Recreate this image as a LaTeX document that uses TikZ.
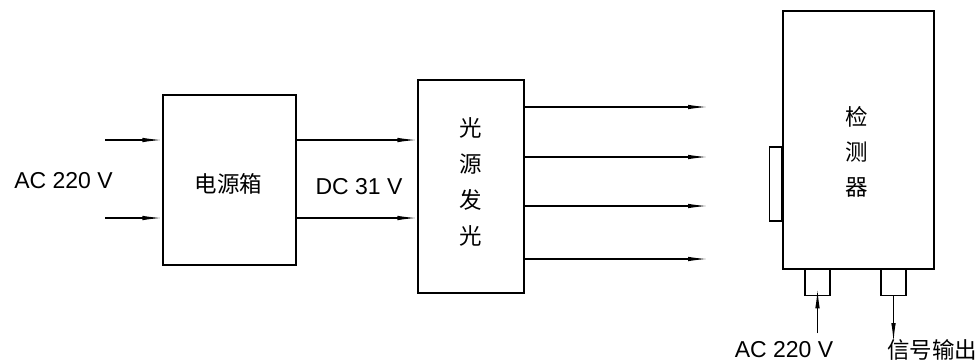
\documentclass[tikz,border=0pt]{standalone}
\usepackage{fontspec}
\setmainfont{Liberation Sans}
\newfontfamily\cjk{Noto Sans CJK SC}
\usetikzlibrary{arrows.meta}
\begin{document}
\begin{tikzpicture}[x=1pt,y=-1pt,
  box/.style={draw,line width=1.3pt,minimum width=#1,inner sep=0pt},
  wire/.style={line width=1.3pt},
  arr/.style={line width=1.3pt,-{Latex[length=20pt,width=4.5pt]}},
  lbl/.style={font=\fontsize{23}{26}\selectfont,inner sep=0pt},
  cn/.style={font=\cjk\fontsize{22.5}{36}\selectfont,inner sep=0pt,align=center}]
\useasboundingbox (0,0) rectangle (980,362);
% boxes
\node[box=133pt,minimum height=170pt] (psu) at (229.5,180) {};
\node[box=106pt,minimum height=213pt] (light) at (471,186.5) {};
\node[box=151pt,minimum height=258pt] (det) at (858.5,140) {};
\node[box=12pt,minimum height=74pt,anchor=east] (win) at (det.west |- 0,184) {};
\node[box=25pt,minimum height=26pt,anchor=north] (p1) at (817.5,269) {};
\node[box=25pt,minimum height=26pt,anchor=north] (p2) at (893.5,269) {};
% texts
\node[lbl] (acin) at (63.5,181) {AC 220 V};
\node[cn] (psut) at (228.5,184) {电源箱};
\node[lbl] (dc) at (359,187) {DC 31 V};
\node[cn] (lt) at (471,182) {光\\源\\发\\光};
\node[cn,font=\cjk\fontsize{22.5}{35}\selectfont] (dt) at (857,152) {检\\测\\器};
\node[lbl] (acb) at (784,350) {AC 220 V};
\node[cn] (sig) at (932,350) {信号输出};
% free ends
\coordinate (a1) at (105,140);
\coordinate (a2) at (105,218);
\foreach \y/\n in {107/1,157/2,206/3,259/4} {
  \coordinate (o\n) at (708,\y);
}
\coordinate (b1) at (817.5,333);
\coordinate (b2) at (893.5,333);
% connectors
\draw[arr] (a1) -- (psu.west |- a1);
\draw[arr] (a2) -- (psu.west |- a2);
\draw[arr] (psu.east |- a1) -- (light.west |- a1);
\draw[arr] (psu.east |- a2) -- (light.west |- a2);
\foreach \n in {1,2,3,4} {
  \draw[arr] (light.east |- o\n) -- (o\n);
}
\draw[wire] (b1) -- (p1.south);
\draw[arr] (b1) -- ([yshift=8pt]p1.south);
\draw[wire] (p2.south) -- (b2);
\draw[arr] (p2.south) -- ([yshift=-10pt]b2);
\end{tikzpicture}
\end{document}
